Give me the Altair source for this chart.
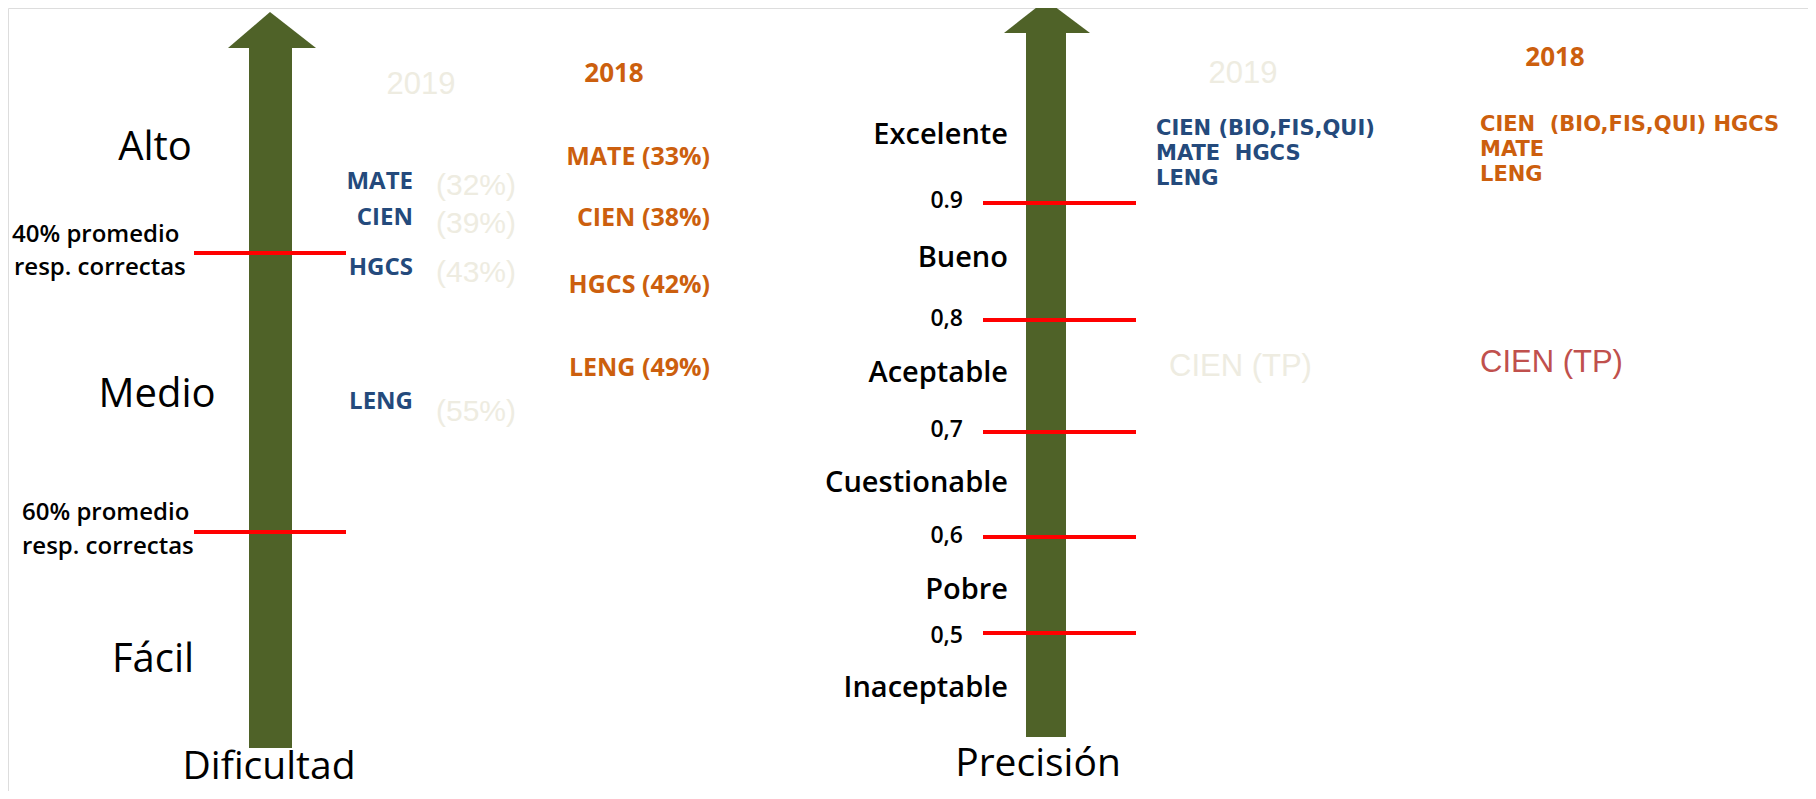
import altair as alt
import pandas as pd

# ---------------- data ----------------
dif_levels = ["Alto", "Medio", "Fácil"]
dif_threshold_pct = [40, 60]
dif_threshold_lines = ["promedio", "resp. correctas"]
subjects_2019 = ["MATE", "CIEN", "HGCS", "LENG"]
pct_2019 = [32, 39, 43, 55]
subjects_2018 = ["MATE", "CIEN", "HGCS", "LENG"]
pct_2018 = [33, 38, 42, 49]
years = ["2019", "2018"]

prec_levels = ["Excelente", "Bueno", "Aceptable", "Cuestionable", "Pobre", "Inaceptable"]
prec_cut_labels = ["0.9", "0,8", "0,7", "0,6", "0,5"]
excelente_2019 = ["CIEN (BIO,FIS,QUI)", "MATE\u00a0\u00a0HGCS", "LENG"]
excelente_2018 = ["CIEN\u00a0\u00a0(BIO,FIS,QUI) HGCS", "MATE", "LENG"]
aceptable_2019 = ["CIEN (TP)"]
aceptable_2018 = ["CIEN (TP)"]
axis_titles = ["Dificultad", "Precisión"]

# ---------------- layout (page pixel positions) ----------------
W, H, M = 1816, 799, 8
L_SHAFT = (249, 292, 48, 748)
L_HEAD = [(228, 48), (270, 12), (316, 48)]
R_SHAFT = (1026, 1066, 33, 737)
R_HEAD = [(1004, 33), (1046, 0), (1090, 33)]
dif_level_pos = [(155, 148), (157, 395), (153, 660)]
dif_line_y = [253, 532]
dif_line_x = (194, 346)
dif_text_pos = [[(12, 235), (14, 268)], [(22, 513), (22, 547)]]
sub19_x, sub19_y = 413, [182, 218, 268, 402]
pct19_x, pct19_y = 436, [186, 224, 273, 412]
sub18_x, sub18_y = 710, [157, 218, 285, 368]
year_pos_left = [(421, 85), (614, 74)]
year_pos_right = [(1243, 74), (1555, 58)]
prec_level_x, prec_level_y = 1008, [135, 258, 373, 483, 590, 688]
prec_num_x, prec_num_y = 963, [201, 319, 430, 536, 636]
prec_line_x, prec_line_y = (983, 1136), [203, 320, 432, 537, 633]
exc19_x, exc19_y = 1156, [129, 154, 179]
exc18_x, exc18_y = 1480, [125, 150, 175]
acc19_pos, acc18_pos = (1169, 367), (1480, 363)
title_pos = [(269, 787), (1038, 784)]

OLIVE = "#4F6228"
RED = "#FF0000"
BLUE = "#244A7C"
ORANGE = "#CC5F0E"
BEIGE = "#EEECE1"
TPRED = "#C0504D"
CAL = "Open Sans"
ARIAL = "Liberation Sans"
DEJA = "DejaVu Sans"

xs = alt.Scale(domain=[M, W - M], nice=False, zero=False)
ys = alt.Scale(domain=[M, H - M], nice=False, zero=False, reverse=True)
X = lambda f="x": alt.X(f"{f}:Q", scale=xs, axis=None)
Y = lambda f="y": alt.Y(f"{f}:Q", scale=ys, axis=None)


def texts(rows, color, size, align="left", weight="normal", font=CAL,
          baseline="middle", **kw):
    df = pd.DataFrame(rows, columns=["x", "y", "t"])
    return alt.Chart(df).mark_text(
        align=align, baseline=baseline, font=font, fontSize=size,
        fontWeight=weight, color=color, **kw,
    ).encode(x=X(), y=Y(), text="t:N")


# arrows
shafts = pd.DataFrame([L_SHAFT, R_SHAFT], columns=["x", "x2", "y", "y2"])
shaft_layer = alt.Chart(shafts).mark_rect(color=OLIVE).encode(
    x=X(), x2="x2:Q", y=Y(), y2="y2:Q")
head_layers = []
for i, head in enumerate([L_HEAD, R_HEAD]):
    hd = pd.DataFrame([(px, py, head[0][1], i) for px, py in head],
                      columns=["x", "y", "y2", "a"])
    head_layers.append(alt.Chart(hd).mark_area(color=OLIVE, interpolate="linear").encode(
        x=X(), y=Y(), y2="y2:Q"))

# red lines
rule_rows = [(dif_line_x[0], dif_line_x[1], y) for y in dif_line_y] + \
            [(prec_line_x[0], prec_line_x[1], y) for y in prec_line_y]
rules = alt.Chart(pd.DataFrame(rule_rows, columns=["x", "x2", "y"])).mark_rule(
    color=RED, strokeWidth=4).encode(x=X(), x2="x2:Q", y=Y())

layers = [shaft_layer] + head_layers + [rules]

# left panel texts
layers.append(texts([(p[0], p[1], t) for p, t in zip(dif_level_pos, dif_levels)],
                    "black", 40, align="center"))
thr_rows = []
for pct, pos in zip(dif_threshold_pct, dif_text_pos):
    thr_rows.append((pos[0][0], pos[0][1], f"{pct}% {dif_threshold_lines[0]}"))
    thr_rows.append((pos[1][0], pos[1][1], dif_threshold_lines[1]))
layers.append(texts(thr_rows, "black", 24, weight=600))
layers.append(texts([(sub19_x, y, s) for s, y in zip(subjects_2019, sub19_y)],
                    BLUE, 24, align="right", weight="bold"))
layers.append(texts([(pct19_x, y, f"({p}%)") for p, y in zip(pct_2019, pct19_y)],
                    BEIGE, 30, font=ARIAL))
layers.append(texts([(sub18_x, y, f"{s} ({p}%)") for s, p, y in zip(subjects_2018, pct_2018, sub18_y)],
                    ORANGE, 25, align="right", weight="bold"))
layers.append(texts([(year_pos_left[0][0], year_pos_left[0][1], years[0]),
                     (year_pos_right[0][0], year_pos_right[0][1], years[0])],
                    BEIGE, 31, align="center", font=ARIAL))
layers.append(texts([(year_pos_left[1][0], year_pos_left[1][1], years[1]),
                     (year_pos_right[1][0], year_pos_right[1][1], years[1])],
                    ORANGE, 26, align="center", weight="bold"))

# right panel texts
layers.append(texts([(prec_level_x, y, t) for t, y in zip(prec_levels, prec_level_y)],
                    "black", 29, align="right", weight=600))
layers.append(texts([(prec_num_x, y, t) for t, y in zip(prec_cut_labels, prec_num_y)],
                    "black", 23, align="right", weight=600))
layers.append(texts([(exc19_x, y, t) for t, y in zip(excelente_2019, exc19_y)],
                    BLUE, 21, weight="bold", font=DEJA))
layers.append(texts([(exc18_x, y, t) for t, y in zip(excelente_2018, exc18_y)],
                    ORANGE, 21, weight="bold", font=DEJA))
layers.append(texts([(acc19_pos[0], acc19_pos[1], aceptable_2019[0])], BEIGE, 31, font=ARIAL))
layers.append(texts([(acc18_pos[0], acc18_pos[1], aceptable_2018[0])], TPRED, 31, font=ARIAL))

# axis titles
layers.append(texts([(p[0], p[1], t) for p, t in zip(title_pos, axis_titles)],
                    "black", 39, align="center", baseline="bottom"))

chart = alt.layer(*layers).properties(
    width=W - 2 * M, height=H - 2 * M, padding=0, autosize="none",
).configure_view(stroke=None).configure(background="white")

chart.save("out.html", embed_options={"renderer": "svg", "actions": False})
